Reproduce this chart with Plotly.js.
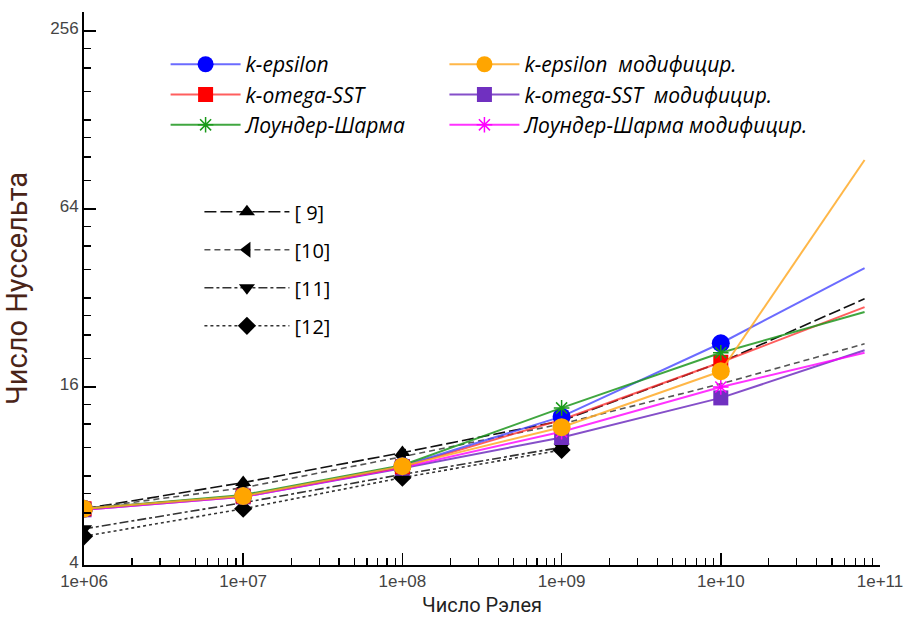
<!DOCTYPE html>
<html>
<head>
<meta charset="utf-8">
<script src="https://cdn.plot.ly/plotly-3.0.1.min.js"></script>
<style>html,body{margin:0;padding:0;background:#fff;}#chart{width:915px;height:624px;}</style>
</head>
<body>
<div id="chart"></div>
<script>
// ---- data ----
const Ra = [1e6, 1e7, 1e8, 1e9, 1e10];
const RaEnd = 8e10;

const kEps      = [6.2, 6.85, 8.65, 12.7, 22.5];
const kEpsEnd   = 40.4;
const kEpsMod   = [6.2, 6.84, 8.64, 11.7, 18.1];
const kEpsModEnd = 93.8;
const kOmega    = [6.2, 6.85, 8.6, 12.4, 19.4];
const kOmegaEnd = 29.8;
const kOmegaMod = [6.15, 6.8, 8.5, 10.8, 14.7];
const kOmegaModEnd = 21.3;
const LS        = [6.2, 6.9, 8.7, 13.6, 20.9];
const LSEnd     = 28.7;
const LSMod     = [6.15, 6.8, 8.55, 11.3, 16.0];
const LSModEnd  = 20.9;

const RaRef = [1e6, 1e7, 1e8, 1e9];
const RaRefExt = [1e9, 1e10, 8e10];
const ref9  = [6.2, 7.6, 9.6, 12.3];
const ref9Ext = [12.3, 19.4, 31.8];
const ref10 = [6.2, 7.3, 9.3, 12.0];
const ref10Ext = [12.0, 16.4, 22.4];
const ref11 = [5.3, 6.5, 8.1, 10.0];
const ref12 = [5.0, 6.2, 7.9, 9.8];

const names = ['k-epsilon', 'k-epsilon  модифицир.', 'k-omega-SST', 'k-omega-SST  модифицир.', 'Лоундер-Шарма', 'Лоундер-Шарма модифицир.'];
const refNames = ['[ 9]', '[10]', '[11]', '[12]'];

const xTickVals = [1e6, 1e7, 1e8, 1e9, 1e10, 1e11];
const xTickText = ['1e+06', '1e+07', '1e+08', '1e+09', '1e+10', '1e+11'];
const yTickVals = [4, 16, 64, 256];
const yTickText = ['4', '16', '64', '256'];

// minor tick positions
const xMinor = [];
for (let e = 6; e < 11; e++) for (let d = 2; d <= 9; d++) xMinor.push(d * Math.pow(10, e));
const yMinor = [];
[4, 16, 64].forEach(b => [1.25, 1.5, 1.75, 2, 2.5, 3, 3.5].forEach(f => yMinor.push(b * f)));

// ---- traces ----
const traces = [];
function refTrace(x, y, name, dash, symbol, color, rank) {
  return {x: x, y: y, name: name, mode: 'lines+markers', legend: 'legend2', legendgroup: name, legendrank: rank,
    line: {color: color, width: 1.6, dash: dash},
    marker: {symbol: symbol, size: 14, color: '#000'}};
}
function refExt(x, y, dash, color) {
  return {x: x, y: y, mode: 'lines', showlegend: false, hoverinfo: 'skip',
    line: {color: color, width: 1.6, dash: dash}};
}
traces.push(refTrace(RaRef, ref9, refNames[0], '12px,4px', 'triangle-up', '#111', 1));
traces.push(refExt(RaRefExt, ref9Ext, '12px,4px', '#111'));
traces.push(refTrace(RaRef, ref10, refNames[1], '6px,4px', 'triangle-left', '#555', 2));
traces.push(refExt(RaRefExt, ref10Ext, '6px,4px', '#555'));
traces.push(refTrace(RaRef, ref11, refNames[2], 'dashdot', 'triangle-down', '#333', 3));
traces.push(refTrace(RaRef, ref12, refNames[3], 'dot', 'diamond', '#333', 4));

function model(y, end, name, color, lineColor, symbol, size, rank, legendId) {
  traces.push({x: [Ra[4], RaEnd], y: [y[4], end], mode: 'lines', showlegend: false, hoverinfo: 'skip',
    line: {color: lineColor, width: 2}});
  traces.push({x: Ra, y: y, name: name, mode: 'lines+markers', legendrank: rank, legend: legendId, legendgroup: name,
    line: {color: lineColor, width: 2},
    marker: {symbol: symbol, size: size, color: color, line: {color: color, width: symbol.indexOf('open') >= 0 ? 1.5 : 0}}});
}
model(kOmegaMod, kOmegaModEnd, names[3], '#7030c0', 'rgba(112,48,192,0.85)', 'square', 15, 2, 'legend3');
model(LSMod, LSModEnd, names[5], '#ff00ff', 'rgba(255,0,255,0.8)', 'asterisk-open', 13, 3, 'legend3');
model(kOmega, kOmegaEnd, names[2], '#ff0000', 'rgba(255,40,40,0.75)', 'square', 15, 2, 'legend');
model(kEps, kEpsEnd, names[0], '#0000ff', 'rgba(70,70,255,0.8)', 'circle', 18, 1, 'legend');
model(LS, LSEnd, names[4], '#1a9a1a', 'rgba(30,150,30,0.85)', 'asterisk-open', 13, 3, 'legend');
model(kEpsMod, kEpsModEnd, names[1], '#ffa500', 'rgba(255,170,40,0.85)', 'circle', 18, 1, 'legend3');

const legendFont = {family: 'Open Sans, Noto Sans, sans-serif', size: 21, style: 'italic', color: '#000'};

const layout = {
  width: 915, height: 624,
  margin: {l: 84, r: 35, t: 12, b: 59},
  paper_bgcolor: '#fff', plot_bgcolor: '#fff',
  showlegend: true,
  font: {family: 'Arial, Liberation Sans, sans-serif', color: '#444'},
  xaxis: {
    type: 'log', range: [6, 11], tickmode: 'array', tickvals: xTickVals, ticktext: xTickText,
    showgrid: false, zeroline: false, showline: true, linecolor: '#000', linewidth: 2,
    ticks: 'inside', ticklen: 12, tickwidth: 1.5, tickcolor: '#000',
    minor: {tickmode: 'array', tickvals: xMinor, ticks: 'inside', ticklen: 7, tickwidth: 1.2, tickcolor: '#000', showgrid: false},
    tickfont: {size: 17, color: '#444'},
    title: {text: 'Число Рэлея', font: {family: 'Liberation Sans Narrow, Roboto, sans-serif', size: 20, color: '#222'}, standoff: 8}
  },
  yaxis: {
    type: 'log', range: [Math.log10(4), Math.log10(297)], tickmode: 'array', tickvals: yTickVals, ticktext: yTickText,
    showgrid: false, zeroline: false, showline: true, linecolor: '#000', linewidth: 2,
    ticks: 'inside', ticklen: 12, tickwidth: 1.5, tickcolor: '#000', ticklabelshift: -3,
    minor: {tickmode: 'array', tickvals: yMinor, ticks: 'inside', ticklen: 7, tickwidth: 1.2, tickcolor: '#000', showgrid: false},
    tickfont: {size: 17, color: '#444'},
    title: {text: 'Число Нуссельта', font: {family: 'Liberation Sans Narrow, Roboto, sans-serif', size: 29, color: '#4a2418'}, standoff: 14}
  },
  legend: {
    orientation: 'v', x: 0.1025, y: 0.942, xanchor: 'left', yanchor: 'top',
    bgcolor: 'rgba(0,0,0,0)', itemwidth: 70, tracegroupgap: 0, traceorder: 'grouped',
    font: legendFont
  },
  legend3: {
    orientation: 'v', x: 0.4528, y: 0.942, xanchor: 'left', yanchor: 'top',
    bgcolor: 'rgba(0,0,0,0)', itemwidth: 70, tracegroupgap: 0, traceorder: 'grouped',
    font: legendFont
  },
  legend2: {
    orientation: 'v', x: 0.145, y: 0.674, xanchor: 'left', yanchor: 'top',
    bgcolor: 'rgba(0,0,0,0)', itemwidth: 85, tracegroupgap: 9, traceorder: 'grouped',
    font: {family: 'Open Sans, Noto Sans, sans-serif', size: 20, color: '#000'}
  }
};

Plotly.newPlot('chart', traces, layout, {displayModeBar: false, staticPlot: true});
</script>
</body>
</html>
